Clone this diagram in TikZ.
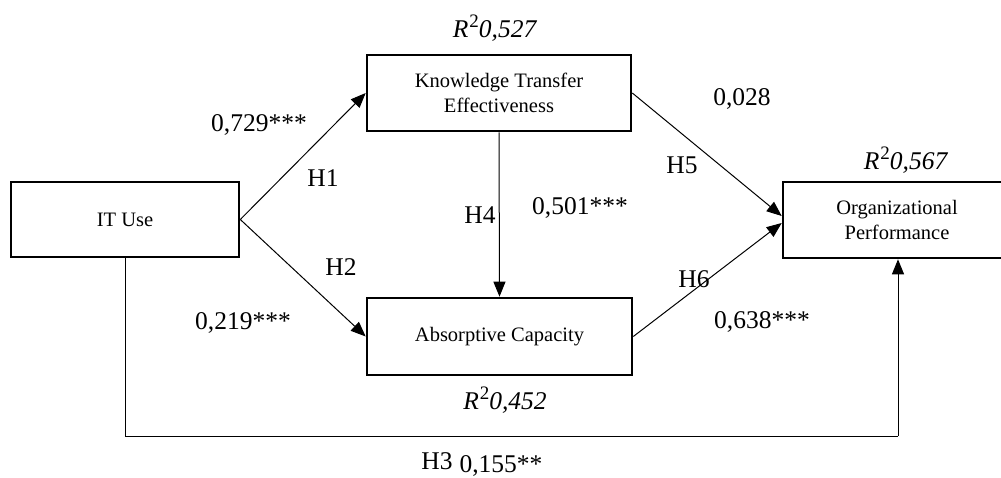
\documentclass[tikz,border=0pt]{standalone}
\usepackage{fontspec}
\setmainfont{Liberation Serif}
\usetikzlibrary{arrows.meta}
\newcommand\rsqlab[1]{\textit{R}\kern1bp\raisebox{0.4em}{\fontsize{19bp}{19bp}\selectfont 2}\textit{#1}}
\begin{document}
\begin{tikzpicture}[x=1bp,y=-1bp,
  box/.style={draw,line width=2.6bp,align=center,inner sep=0pt,
    font=\fontsize{20.5bp}{25.5bp}\selectfont},
  lab/.style={inner sep=0pt,font=\fontsize{25.5bp}{30bp}\selectfont},
  arr/.style={line width=1bp,-{Triangle[length=15bp,width=12bp]}},
  conn/.style={line width=1bp}]
\clip (0,0) rectangle (1001,478);
\fill[white] (0,0) rectangle (1001,478);
\node[box,minimum width=228bp,minimum height=75bp] (IT) at (125,219.5) {IT Use};
\node[box,minimum width=264bp,minimum height=76bp] (KTE) at (499,93) {Knowledge Transfer\\Effectiveness};
\node[box,minimum width=265bp,minimum height=77bp] (AC) at (499.5,336.5) {Absorptive Capacity};
\node[box,minimum width=228bp,minimum height=76bp] (OP) at (897,220) {Organizational\\Performance};
\coordinate (base) at (0,436);
\draw[arr] (IT.east) -- (KTE.west);
\draw[arr] (IT.east) -- (AC.west);
\draw[arr] (KTE.south) -- (AC.north);
\draw[arr] (KTE.east) -- ([yshift=4bp]OP.west);
\draw[arr] (AC.east) -- ([yshift=-3bp]OP.west);
\draw[conn] (IT.south) -- (IT.south |- base) -- ([xshift=1bp]OP.south |- base);
\draw[arr] ([xshift=1bp]OP.south |- base) -- ([xshift=1bp]OP.south);
\node[lab] (r1) at (495,28) {\rsqlab{0,527}};
\node[lab] (l1) at (259,125) {0,729***};
\node[lab] (h1) at (323,178) {H1};
\node[lab] (h2) at (341,267) {H2};
\node[lab] (l2) at (243,323) {0,219***};
\node[lab] (h4) at (480,215) {H4};
\node[lab] (l4) at (580,208) {0,501***};
\node[lab] (l5) at (742,99) {0,028};
\node[lab] (h5) at (682,165) {H5};
\node[lab] (h6) at (694,279) {H6};
\node[lab] (l6) at (762,322) {0,638***};
\node[lab] (r3) at (906,160) {\rsqlab{0,567}};
\node[lab] (r2) at (505,400) {\rsqlab{0,452}};
\node[lab] (h3) at (437,461) {H3};
\node[lab] (l3) at (501,466) {0,155**};
\end{tikzpicture}
\end{document}
